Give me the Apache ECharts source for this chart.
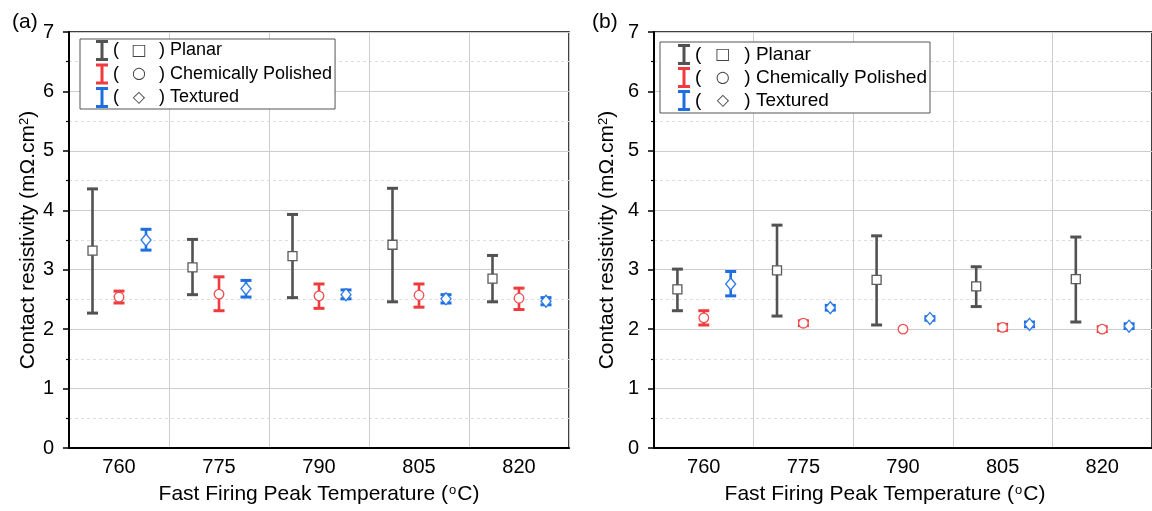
<!DOCTYPE html>
<html>
<head>
<meta charset="utf-8">
<script src="https://cdn.jsdelivr.net/npm/echarts@6/dist/echarts.min.js"></script>
<style>
html,body{margin:0;padding:0;background:#fff;}
#chart{width:1152px;height:511px;}
</style>
</head>
<body>
<div id="chart"></div>
<script>
// ---------- DATA ----------
const categories = ['760', '775', '790', '805', '820'];
const yTicks = [0, 1, 2, 3, 4, 5, 6, 7];
const seriesNames = ['Planar', 'Chemically Polished', 'Textured'];

// Panel (a)
const planarA_mean = [3.32, 3.04, 3.23, 3.42, 2.85];
const planarA_low  = [2.27, 2.58, 2.53, 2.46, 2.46];
const planarA_high = [4.36, 3.51, 3.93, 4.37, 3.24];
const polishedA_mean = [2.54, 2.59, 2.56, 2.57, 2.52];
const polishedA_low  = [2.44, 2.31, 2.35, 2.37, 2.33];
const polishedA_high = [2.64, 2.88, 2.76, 2.76, 2.69];
const texturedA_mean = [3.50, 2.68, 2.58, 2.51, 2.47];
const texturedA_low  = [3.33, 2.54, 2.51, 2.44, 2.41];
const texturedA_high = [3.68, 2.82, 2.66, 2.58, 2.53];

// Panel (b)
const planarB_mean = [2.67, 2.99, 2.83, 2.72, 2.84];
const planarB_low  = [2.31, 2.22, 2.07, 2.38, 2.12];
const planarB_high = [3.01, 3.75, 3.57, 3.05, 3.55];
const polishedB_mean = [2.19, 2.10, 2.00, 2.03, 2.00];
const polishedB_low  = [2.07, 2.06, 2.00, 1.98, 1.96];
const polishedB_high = [2.31, 2.14, 2.00, 2.08, 2.04];
const texturedB_mean = [2.76, 2.36, 2.18, 2.08, 2.05];
const texturedB_low  = [2.56, 2.32, 2.15, 2.04, 2.01];
const texturedB_high = [2.97, 2.40, 2.21, 2.12, 2.09];

// ---------- STYLE ----------
const FONT = 'Liberation Sans, Arial, sans-serif';
const styles = {
  'Planar': {bar: '#525252', mark: '#5a5a5a', shape: 'square', offset: -0.265, sym: '\u25A1'},
  'Chemically Polished': {bar: '#EF3B3D', mark: '#F24E50', shape: 'circle', offset: 0, sym: '\u25CB'},
  'Textured': {bar: '#1E6EE0', mark: '#2B7BEA', shape: 'diamond', offset: 0.27, sym: '\u25C7'}
};

function buildData(mean, low, high) {
  return categories.map((c, i) => [i, mean[i], low[i], high[i]]);
}

function makeRender(name) {
  const st = styles[name];
  return function (params, api) {
    const i = api.value(0), m = api.value(1), lo = api.value(2), hi = api.value(3);
    const bw = api.size([1, 0])[0];
    const c = api.coord([i, m]);
    const x = c[0] + st.offset * bw;
    const ym = c[1];
    const yl = api.coord([i, lo])[1];
    const yh = api.coord([i, hi])[1];
    const children = [];
    const cap = 5.5;
    if (hi > lo) {
      children.push({type: 'line', shape: {x1: x, y1: yl, x2: x, y2: yh}, style: {stroke: st.bar, lineWidth: 2.6}});
      children.push({type: 'line', shape: {x1: x - cap, y1: yl, x2: x + cap, y2: yl}, style: {stroke: st.bar, lineWidth: 3}});
      children.push({type: 'line', shape: {x1: x - cap, y1: yh, x2: x + cap, y2: yh}, style: {stroke: st.bar, lineWidth: 3}});
    }
    const ms = {fill: '#fff', stroke: st.mark, lineWidth: 1.3};
    if (st.shape === 'square') {
      children.push({type: 'rect', shape: {x: x - 4.5, y: ym - 4.5, width: 9, height: 9}, style: ms});
    } else if (st.shape === 'circle') {
      children.push({type: 'circle', shape: {cx: x, cy: ym, r: 4.8}, style: ms});
    } else {
      children.push({type: 'polygon', shape: {points: [[x, ym - 6], [x + 5, ym], [x, ym + 6], [x - 5, ym]]}, style: ms});
    }
    return {type: 'group', children: children};
  };
}

function makeSeries(name, idx, mean, low, high) {
  return {
    name: name,
    type: 'custom',
    xAxisIndex: idx,
    yAxisIndex: idx,
    itemStyle: {color: styles[name].bar},
    renderItem: makeRender(name),
    encode: {x: 0, y: [1, 2, 3]},
    data: buildData(mean, low, high),
    z: 5
  };
}

const icon = 'path://M0,0H12V3H7.5V18H12V21H0V18H4.5V3H0Z';

function makeLegend(left, top, fontSize, itemHeight, itemGap, padding, textGap, symW) {
  return {
    orient: 'vertical',
    left: left, top: top,
    data: seriesNames.map(n => ({name: n, icon: icon})),
    itemWidth: 12, itemHeight: itemHeight, itemGap: itemGap,
    itemTextGap: textGap,
    padding: padding,
    backgroundColor: '#fff',
    borderColor: '#555', borderWidth: 1, borderRadius: 0,
    selectedMode: false,
    formatter: function (n) {
      return '{p|(}{s|' + styles[n].sym + '}{p|) ' + n + '}';
    },
    textStyle: {
      fontFamily: FONT, fontSize: fontSize, color: '#000',
      rich: {
        p: {fontFamily: FONT, fontSize: fontSize, color: '#000'},
        s: {fontFamily: 'DejaVu Sans', fontSize: 16, color: '#444', width: symW, align: 'center'}
      }
    }
  };
}

function makeXAxis(idx, namePad) {
  return {
    type: 'category', gridIndex: idx, data: categories,
    boundaryGap: true,
    axisLine: {show: true, lineStyle: {color: '#000', width: 2}},
    axisTick: {show: false},
    axisLabel: {fontFamily: FONT, fontSize: 20, color: '#000', margin: 9},
    splitLine: {show: true, lineStyle: {color: '#cdcdcd', width: 1}},
    name: 'Fast Firing Peak Temperature ({sup|o}C)',
    nameLocation: 'middle', nameGap: 36,
    nameTextStyle: {
      fontFamily: FONT, fontSize: 21, color: '#000', padding: namePad,
      rich: {sup: {fontFamily: FONT, fontSize: 13, verticalAlign: 'top', color: '#000', padding: [0, 1, 8, 1]}}
    }
  };
}

function makeYAxis(idx, nameGap) {
  return {
    type: 'value', gridIndex: idx, min: yTicks[0], max: yTicks[yTicks.length - 1], interval: 1,
    axisLine: {show: true, lineStyle: {color: '#000', width: 2}},
    axisTick: {show: true, inside: false, length: 6, lineStyle: {color: '#000', width: 1.5}},
    minorTick: {show: true, splitNumber: 2, length: 3, lineStyle: {color: '#000', width: 1.2}},
    axisLabel: {fontFamily: FONT, fontSize: 20, color: '#000', margin: 15},
    splitLine: {show: true, lineStyle: {color: '#cdcdcd', width: 1}},
    minorSplitLine: {show: true, lineStyle: {color: '#dedede', width: 1, type: [3, 3]}},
    name: 'Contact resistivity (m\u03A9.cm{sup|2})',
    nameLocation: 'middle', nameGap: nameGap,
    nameTextStyle: {
      fontFamily: FONT, fontSize: 21, color: '#000',
      rich: {sup: {fontFamily: FONT, fontSize: 13, verticalAlign: 'top', color: '#000', padding: [0, 0, 8, 0]}}
    }
  };
}

const chart = echarts.init(document.getElementById('chart'), null, {renderer: 'canvas'});
chart.setOption({
  animation: false,
  backgroundColor: '#fff',
  grid: [
    {left: 69, top: 32, width: 500, height: 416, show: true, borderColor: '#000', borderWidth: 1.5, backgroundColor: 'transparent'},
    {left: 654, top: 32, width: 505, height: 416, show: true, borderColor: '#000', borderWidth: 1.5, backgroundColor: 'transparent'}
  ],
  xAxis: [makeXAxis(0, [0, 0, 0, 0]), makeXAxis(1, [0, 36, 0, 0])],
  yAxis: [makeYAxis(0, 30), makeYAxis(1, 36)],
  legend: [
    makeLegend(80, 39, 18, 21, 2.5, [1, 3, 1, 16], 13, 40),
    makeLegend(660, 42, 19, 22, 2, [2, 3, 2, 18], 14, 43)
  ],
  graphic: [
    {type: 'text', left: 12, top: 12, style: {text: '(a)', fontFamily: FONT, fontSize: 21, fill: '#000'}},
    {type: 'text', left: 592, top: 12, style: {text: '(b)', fontFamily: FONT, fontSize: 21, fill: '#000'}}
  ],
  series: [
    makeSeries('Planar', 0, planarA_mean, planarA_low, planarA_high),
    makeSeries('Chemically Polished', 0, polishedA_mean, polishedA_low, polishedA_high),
    makeSeries('Textured', 0, texturedA_mean, texturedA_low, texturedA_high),
    makeSeries('Planar', 1, planarB_mean, planarB_low, planarB_high),
    makeSeries('Chemically Polished', 1, polishedB_mean, polishedB_low, polishedB_high),
    makeSeries('Textured', 1, texturedB_mean, texturedB_low, texturedB_high)
  ]
});
</script>
</body>
</html>
